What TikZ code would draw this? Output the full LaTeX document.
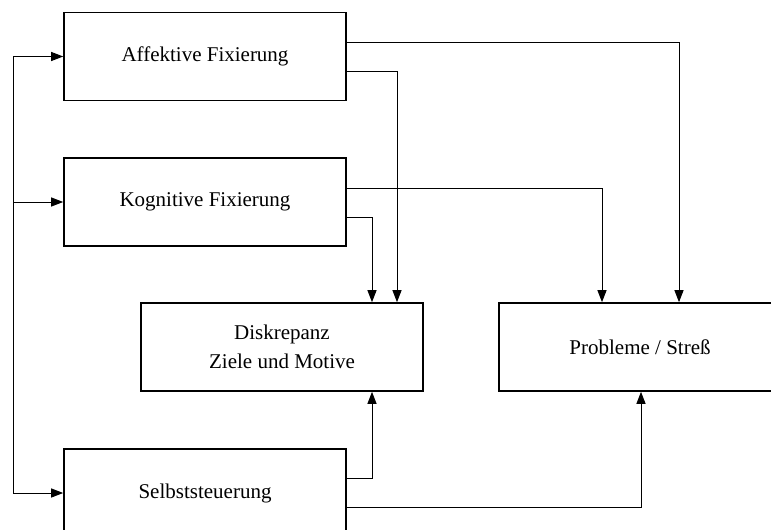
\documentclass[tikz,border=0pt]{standalone}
\usepackage{fontspec}
\setmainfont{Liberation Serif}
\usetikzlibrary{arrows.meta,calc}
\begin{document}
\begin{tikzpicture}[x=1pt,y=-1pt,
  box/.style={draw,line width=1.6pt,minimum width=282pt,minimum height=88pt,inner sep=0pt,align=center,font=\fontsize{21}{29}\selectfont},
  conn/.style={line width=1pt},
  arr/.style={conn,-{Triangle[length=12pt,width=9pt]}}]
\useasboundingbox (0,0) rectangle (771,530);
\clip (0,0) rectangle (771,530);
\fill[white] (0,0) rectangle (771,530);
\node[box] (aff) at (205,56.5) {Affektive Fixierung};
\node[box] (kog) at (205,202) {Kognitive Fixierung};
\node[box] (dis) at (282,347) {Diskrepanz\\Ziele und Motive};
\node[box] (pro) at (640,347) {Probleme / Streß};
\node[box] (sel) at (205,493) {Selbststeuerung};
\coordinate (sp) at (13,0);
\draw[arr] (sp |- aff.west) -- (aff.west);
\draw[arr] (sp |- kog.west) -- (kog.west);
\draw[arr] (sp |- aff.west) -- (sp |- sel.west) -- (sel.west);
\draw[arr] ([yshift=14.5pt]aff.east) -| ([xshift=39pt]pro.north);
\draw[arr] ([yshift=-14.5pt]aff.east) -| ([xshift=115pt]dis.north);
\draw[arr] ([yshift=14pt]kog.east) -| ([xshift=-38pt]pro.north);
\draw[arr] ([yshift=-15pt]kog.east) -| ([xshift=90pt]dis.north);
\draw[arr] ([yshift=15pt]sel.east) -| ([xshift=90pt]dis.south);
\draw[arr] ([yshift=-14pt]sel.east) -| ([xshift=1pt]pro.south);
\end{tikzpicture}
\end{document}
